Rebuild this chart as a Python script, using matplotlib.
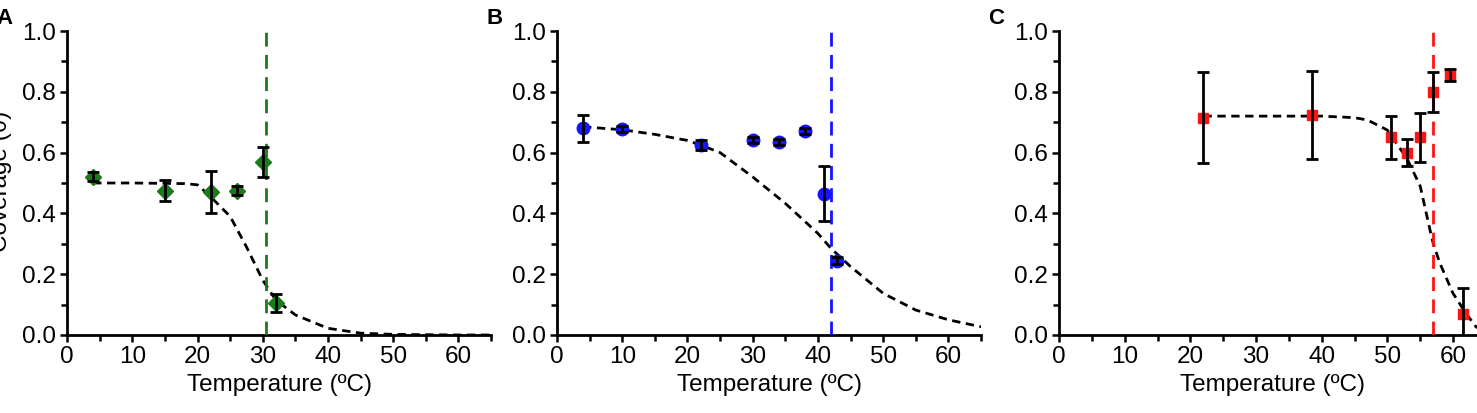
import numpy as np
import matplotlib
matplotlib.use('Agg')
import matplotlib.pyplot as plt
from matplotlib.ticker import MultipleLocator

plt.rcParams['font.family'] = ['Liberation Sans', 'DejaVu Sans']

# Panel A - green diamonds
temp_a = [4, 15, 22, 26, 30, 32]
cov_a = [0.52, 0.475, 0.47, 0.475, 0.57, 0.105]
err_a = [0.015, 0.035, 0.07, 0.015, 0.05, 0.03]
fit_x_a = [4, 10, 18, 20, 22, 25, 27.5, 30, 32, 35, 40, 45, 50, 55, 60, 65]
fit_y_a = [0.50, 0.50, 0.498, 0.494, 0.455, 0.39, 0.29, 0.18, 0.115, 0.066, 0.022, 0.006, 0.002, 0.001, 0.0, 0.0]
tm_a = 30.5

# Panel B - blue circles
temp_b = [4, 10, 22, 30, 34, 38, 41, 43]
cov_b = [0.68, 0.678, 0.625, 0.64, 0.635, 0.67, 0.465, 0.245]
err_b = [0.045, 0.01, 0.015, 0.01, 0.01, 0.01, 0.09, 0.01]
fit_x_b = [4, 10, 15, 20, 22, 25, 30, 35, 40, 42, 45, 50, 55, 60, 65]
fit_y_b = [0.685, 0.675, 0.66, 0.64, 0.625, 0.60, 0.52, 0.433, 0.334, 0.285, 0.225, 0.137, 0.082, 0.05, 0.027]
tm_b = 42

# Panel C - red squares
temp_c = [22, 38.5, 50.5, 53, 55, 57, 59.5, 61.5]
cov_c = [0.715, 0.725, 0.65, 0.60, 0.65, 0.80, 0.855, 0.07]
err_c = [0.15, 0.145, 0.07, 0.045, 0.08, 0.065, 0.02, 0.085]
fit_x_c = [22, 30, 40, 45, 47, 50, 53, 55, 56.5, 57, 58, 60, 62, 63.5, 65]
fit_y_c = [0.72, 0.72, 0.72, 0.715, 0.707, 0.674, 0.58, 0.49, 0.345, 0.30, 0.236, 0.137, 0.07, 0.027, 0.005]
tm_c = 57

fig = plt.figure(figsize=(14.77, 4.13), dpi=100)

paineis = [
    ('A', [0.0454, 0.1889, 0.2871, 0.736], temp_a, cov_a, err_a, fit_x_a, fit_y_a, tm_a, '#1c7a1c', 'D', 8.5),
    ('B', [0.3771, 0.1889, 0.2871, 0.736], temp_b, cov_b, err_b, fit_x_b, fit_y_b, tm_b, '#1414ff', 'o', 9),
    ('C', [0.7170, 0.1889, 0.2890, 0.736], temp_c, cov_c, err_c, fit_x_c, fit_y_c, tm_c, '#ff1414', 's', 7.5),
]

for letra, pos, tx, cy, ey, fx, fy, tm, cor, mk, ms in paineis:
    ax = fig.add_axes(pos)
    ax.plot(fx, fy, color='black', ls=(0, (3, 2)), lw=2, zorder=2)
    ax.plot([tm, tm], [0, 1.0], color=cor, ls=(0, (5, 3)), lw=2, zorder=3)
    ax.plot(tx, cy, ls='none', marker=mk, color=cor, markersize=ms, zorder=4)
    ax.errorbar(tx, cy, yerr=ey, fmt='none', ecolor='black', elinewidth=2,
                capsize=4, capthick=2, zorder=5)

    ax.set_xlim(0, 65)
    ax.set_ylim(0, 1.0)
    ax.xaxis.set_major_locator(MultipleLocator(10))
    ax.xaxis.set_minor_locator(MultipleLocator(5))
    ax.yaxis.set_major_locator(MultipleLocator(0.2))
    ax.yaxis.set_minor_locator(MultipleLocator(0.1))
    ax.yaxis.set_major_formatter(plt.FormatStrFormatter('%.1f'))
    for s in ['top', 'right']:
        ax.spines[s].set_visible(False)
    for s in ['left', 'bottom']:
        ax.spines[s].set_linewidth(2)
    ax.tick_params(which='major', direction='out', length=5, width=1.8, labelsize=17.5, pad=3)
    ax.tick_params(which='minor', direction='out', length=4, width=1.8)
    ax.set_xlabel('Temperature (ºC)', fontsize=17.5, labelpad=4)
    ax.patch.set_alpha(0)

    fig.text(pos[0] - 0.037, 0.955, letra, fontsize=16, fontweight='bold', ha='right', va='center')

fig.text(0.0005, 0.56, 'Coverage (θ)', rotation=90, fontsize=17.5, ha='center', va='center')

plt.savefig('out.png', dpi=100)
